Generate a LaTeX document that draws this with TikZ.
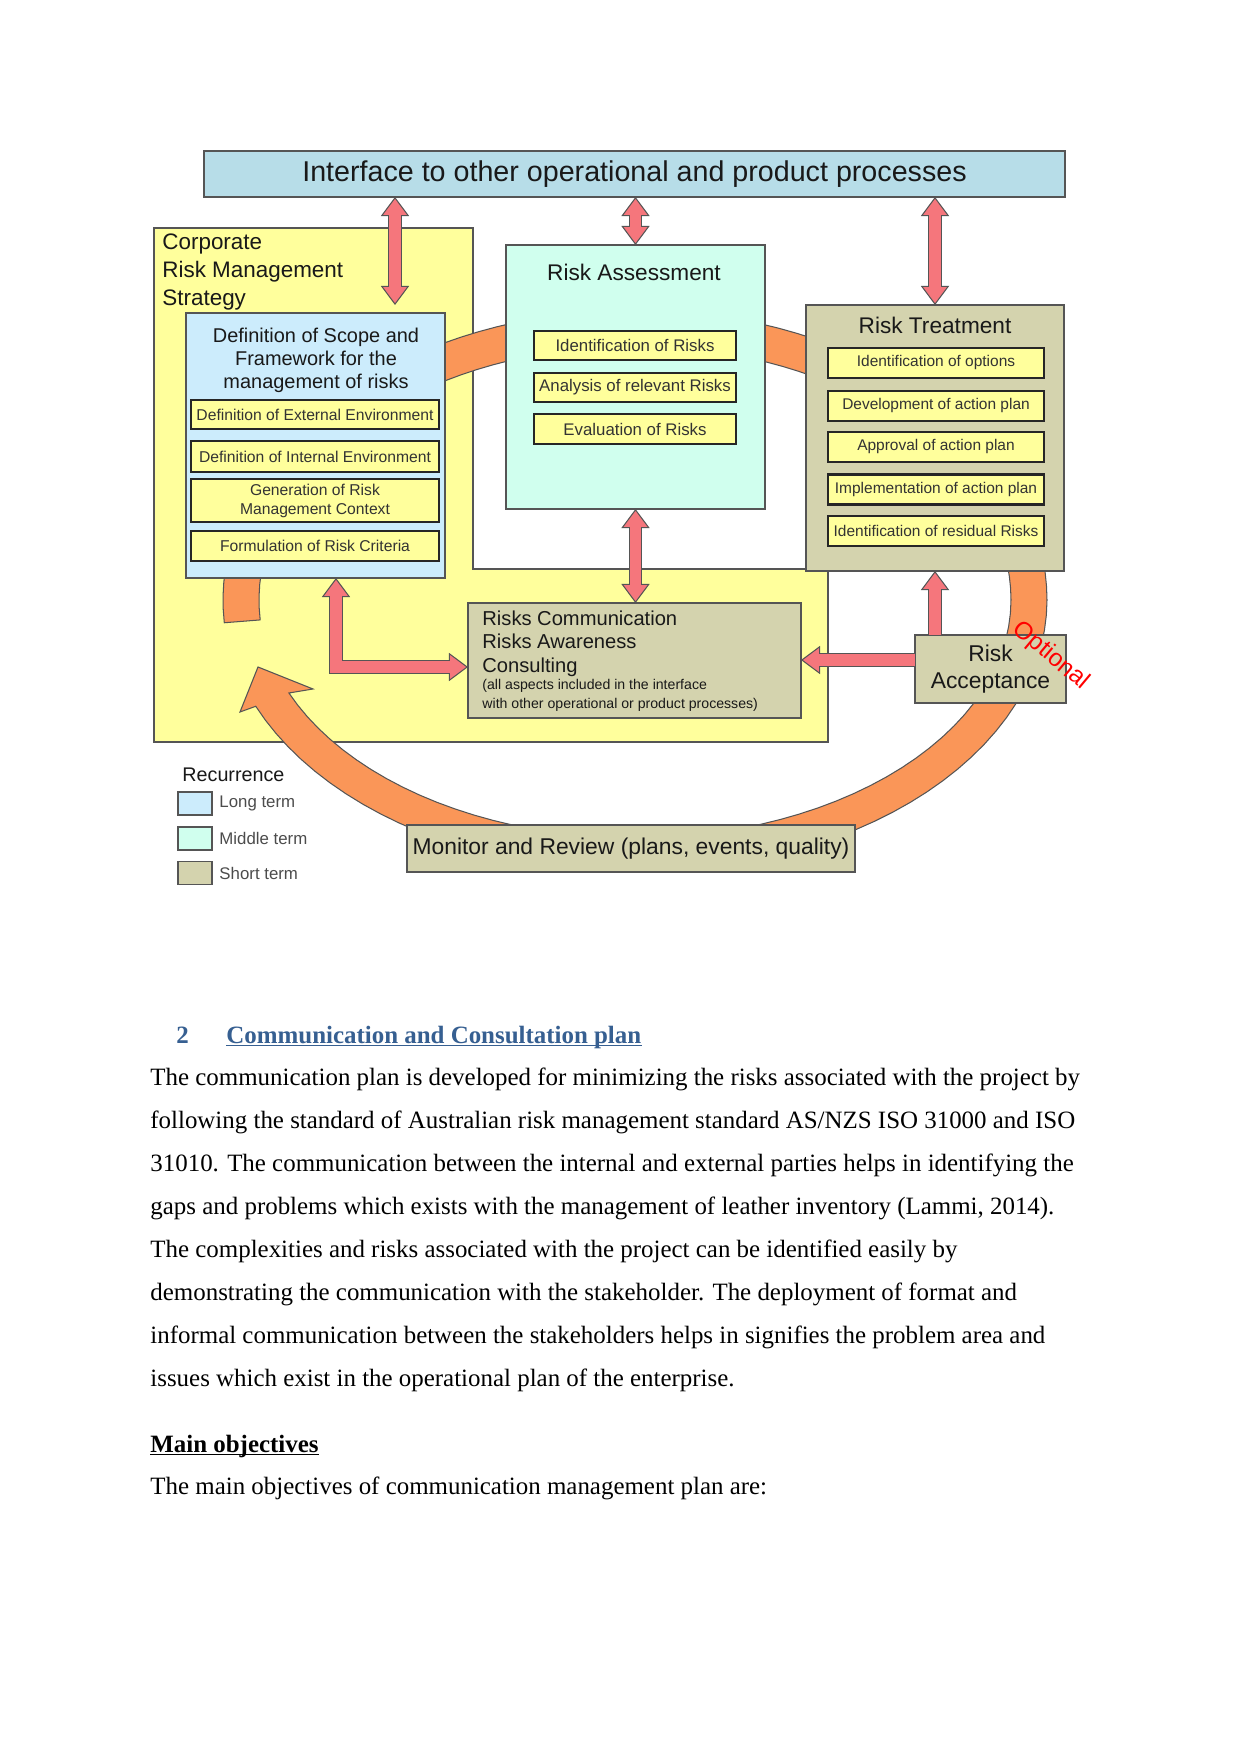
\documentclass[tikz,border=0pt]{standalone}
\usepackage{fontspec}
\setmainfont{Liberation Serif}
\newfontfamily\diagfont{Liberation Sans}
\usetikzlibrary{arrows.meta,calc,positioning}

\definecolor{ifblue}{RGB}{183,221,232}
\definecolor{longblue}{RGB}{204,236,252}
\definecolor{midmint}{RGB}{208,255,238}
\definecolor{shortkhaki}{RGB}{212,211,174}
\definecolor{corpyellow}{RGB}{255,255,156}
\definecolor{arrowred}{RGB}{245,118,124}
\definecolor{ringorange}{RGB}{250,150,88}
\definecolor{edgegray}{RGB}{85,85,85}
\definecolor{headblue}{RGB}{54,95,145}

% one pixel of the page
\newcommand{\pxu}{0.016922cm}

\begin{document}
\begin{tikzpicture}[
  x=\pxu, y=-\pxu,
  >={Triangle[length=9.2pt, width=13.6pt, fill=arrowred, line width=0.5pt]},
  sz/.style 2 args={minimum width=#1*\pxu, minimum height=#2*\pxu},
  box/.style={draw=edgegray, line width=0.6pt, inner sep=0pt, outer sep=0pt, align=center, text=black!90},
  subbox/.style={draw=black!85, line width=1.1pt, fill=corpyellow, inner sep=0pt, outer sep=0pt, align=center, text=black!80},
  defsub/.style={subbox, font=\diagfont\fontsize{7.55}{9.1}\selectfont},
  asssub/.style={subbox, font=\diagfont\fontsize{8.1}{9.7}\selectfont},
  trtsub/.style={subbox, font=\diagfont\fontsize{7.45}{9}\selectfont},
  bigtxt/.style={font=\diagfont\fontsize{10.9}{13}\selectfont, text=black!90, inner sep=0pt},
  ring/.style={draw=edgegray, line width=0.5pt, fill=ringorange},
  fatboth/.style={draw=edgegray, line width=6.7pt, <->,
    postaction={draw=arrowred, line width=5.7pt, -, shorten <=8.7pt, shorten >=8.7pt}},
  fatend/.style={draw=edgegray, line width=6.7pt, ->,
    postaction={draw=arrowred, line width=5.7pt, -, shorten >=8.7pt}},
  bodytext/.style={font=\fontsize{12}{20.75}\selectfont, inner sep=0pt, anchor=base west, align=left}
]
\useasboundingbox (0,0) rectangle (1241,1754);
\fill[white] (0,0) rectangle (1241,1754);

% Interface bar on top
\node[box, fill=ifblue, sz={861}{46}, font=\diagfont\fontsize{13.8}{16}\selectfont] (iface) at (634.5,174)
  {Interface to other operational and product processes};

% Corporate strategy area (yellow), text placed by its last line
\filldraw[draw=edgegray, line width=0.6pt, fill=corpyellow]
  (154,228) -- (473,228) -- (473,569) -- (828,569) -- (828,742) -- (154,742) -- cycle;
\node[bigtxt, anchor=base west, align=left, font=\diagfont\fontsize{10.8}{13.5}\selectfont] (corpText) at (162,306)
  {Corporate\\Risk Management\\Strategy};

% Cycle ring behind the boxes
\filldraw[ring]
  plot[domain=175.5:360, samples=70] ({635+412*cos(\x)},{600+290*sin(\x)})
  -- plot[domain=0:157, samples=50] ({635+412*cos(\x)},{600+272*sin(\x)})
  -- (240,712) -- (258,667) -- (313,689)
  -- plot[domain=157:0, samples=50] ({635+376*cos(\x)},{600+238*sin(\x)})
  -- plot[domain=360:175.5, samples=70] ({635+376*cos(\x)},{600+254*sin(\x)})
  -- cycle;

% Scope and framework (long term)
\node[box, fill=longblue, sz={259}{265}] (defn) at (315.5,445.5) {};
\node[bigtxt, anchor=base, align=center, font=\diagfont\fontsize{9.6}{11.3}\selectfont] (defnTitle) at (316,389)
  {Definition of Scope and\\Framework for the\\management of risks};
\node[defsub, sz={248}{29}] (extEnv) at (315,414.5) {Definition of External Environment};
\node[defsub, sz={248}{31}] (intEnv) at (315,456.5) {Definition of Internal Environment};
\node[defsub, sz={248}{43}] (genCtx) at (315,500.5) {Generation of Risk\\Management Context};
\node[defsub, sz={248}{30}] (riskCrit) at (315,546) {Formulation of Risk Criteria};

% Risk assessment (middle term)
\node[box, fill=midmint, sz={259}{264}] (assess) at (635.5,377) {};
\node[bigtxt, anchor=base] (assessTitle) at (634,281) {Risk Assessment};
\node[asssub, sz={202}{29}] (identRisk) at (635,345.5) {Identification of Risks};
\node[asssub, sz={202}{29}] (analRisk) at (635,387.5) {Analysis of relevant Risks};
\node[asssub, sz={202}{30}] (evalRisk) at (635,429) {Evaluation of Risks};

% Risk treatment (short term)
\node[box, fill=shortkhaki, sz={258}{266}] (treat) at (935,438) {};
\node[bigtxt, anchor=base] (treatTitle) at (935,334) {Risk Treatment};
\node[trtsub, sz={216}{30}] (identOpt) at (936,363) {Identification of options};
\node[trtsub, sz={216}{30}] (devPlan) at (936,406) {Development of action plan};
\node[trtsub, sz={216}{30}] (apprPlan) at (936,447) {Approval of action plan};
\node[trtsub, sz={216}{30}] (implPlan) at (936,489.5) {Implementation of action plan};
\node[trtsub, sz={216}{30}] (residRisk) at (936,531) {Identification of residual Risks};

% Communication box
\node[box, fill=shortkhaki, sz={333}{115}] (comm) at (634.5,660.5) {};
\node[bigtxt, anchor=base west, align=left, font=\diagfont\fontsize{9.7}{11.3}\selectfont] (commText) at (482,672)
  {Risks Communication\\Risks Awareness\\Consulting};
\node[bigtxt, anchor=base west, align=left, font=\diagfont\fontsize{6.8}{8.7}\selectfont] (commNote) at (482,708)
  {(all aspects included in the interface\\with other operational or product processes)};

% Acceptance and monitoring
\node[box, fill=shortkhaki, sz={151}{68}, font=\diagfont\fontsize{11}{13}\selectfont] (accept) at (990.5,669)
  {Risk\\Acceptance};
\node[box, fill=shortkhaki, sz={448}{47}, font=\diagfont\fontsize{11}{13}\selectfont] (monitor) at (631,848.5)
  {Monitor and Review (plans, events, quality)};
\node[font=\diagfont\fontsize{11.8}{14}\selectfont, text=red, rotate=-40, inner sep=0pt] (optTag) at (1051,656) {Optional};

% Red connectors
\draw[fatboth] ($(iface.south)+(-239.5,0)$) -- ($(defn.north)+(79.5,-8)$);
\draw[fatboth] (iface.south -| assess.north) -- (assess.north);
\draw[fatboth] (iface.south -| treat.north) -- (treat.north);
\draw[fatboth] (assess.south) -- (assess.south |- comm.north);
\draw[fatboth] ($(defn.south)+(20.5,0)$) |- ($(comm.west)+(0,6.5)$);
\coordinate (accLeft) at ($(accept.west)+(0,-9)$);
\draw[fatend] (accLeft) -- (accLeft -| comm.east);
\coordinate (accTop) at ($(accept.north)+(-55.5,0)$);
\draw[fatend] (accTop) -- (accTop |- treat.south);

% Legend
\node[bigtxt, anchor=base west, font=\diagfont\fontsize{9.5}{11}\selectfont] (recTitle) at (182,781) {Recurrence};
\node[box, fill=longblue, sz={34}{23}] (lgLong) at (195,803.5) {};
\node[box, fill=midmint, sz={34}{23}] (lgMid) at (195,838.5) {};
\node[box, fill=shortkhaki, sz={34}{23}] (lgShort) at (195,873) {};
\node[font=\diagfont\fontsize{8.1}{10}\selectfont, text=black!70, inner sep=0pt, right=3.4pt of lgLong] (lgLongTxt) {Long term};
\node[font=\diagfont\fontsize{8.1}{10}\selectfont, text=black!70, inner sep=0pt, right=3.4pt of lgMid] (lgMidTxt) {Middle term};
\node[font=\diagfont\fontsize{8.1}{10}\selectfont, text=black!70, inner sep=0pt, right=3.4pt of lgShort] (lgShortTxt) {Short term};

% Page text below the figure
\node[bodytext, font=\bfseries\fontsize{12}{14}\selectfont, text=headblue] (secNum) at (176,1043) {2};
\node[bodytext, font=\bfseries\fontsize{12}{14}\selectfont, text=headblue] (secTitle) at (226,1043)
  {Communication and Consultation plan};
\draw[headblue, line width=0.55pt] ($(secTitle.base west)+(0,2.5)$) -- ($(secTitle.base east)+(0,2.5)$);

% paragraph placed by the baseline of its last line
\node[bodytext] (bodyPara) at (150,1386.7)
  {The communication plan is developed for minimizing the risks associated with the project by\\
   following the standard of Australian risk management standard AS/NZS ISO 31000 and ISO\\
   31010. The communication between the internal and external parties helps in identifying the\\
   gaps and problems which exists with the management of leather inventory (Lammi, 2014).\\
   The complexities and risks associated with the project can be identified easily by\\
   demonstrating the communication with the stakeholder. The deployment of format and\\
   informal communication between the stakeholders helps in signifies the problem area and\\
   issues which exist in the operational plan of the enterprise.};

\node[bodytext, font=\bfseries\fontsize{12}{14}\selectfont] (objHead) at (150,1452) {Main objectives};
\draw[black, line width=0.55pt] ($(objHead.base west)+(0,2.5)$) -- ($(objHead.base east)+(0,2.5)$);
\node[bodytext] (objLine) at (150,1494) {The main objectives of communication management plan are:};
\end{tikzpicture}
\end{document}
